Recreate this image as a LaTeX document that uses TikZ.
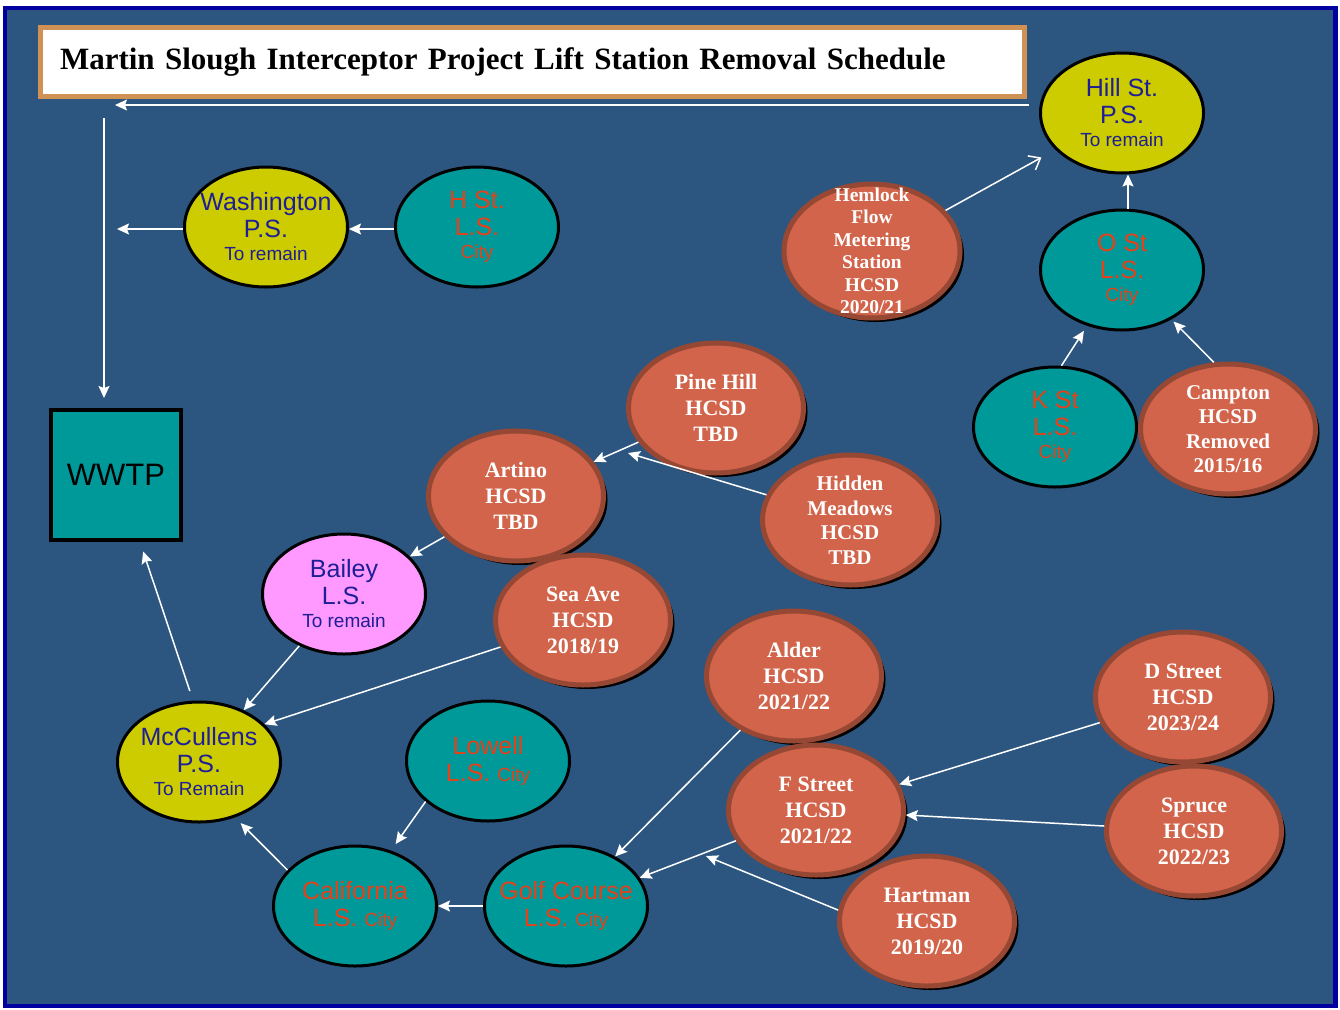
\documentclass[tikz,border=0pt]{standalone}
\usepackage{fontspec}
\setmainfont{Liberation Serif}
\newfontfamily\labelsans{Liberation Sans}
\usetikzlibrary{shapes.geometric,shadows,arrows.meta}

\definecolor{slatebg}{RGB}{44, 86, 128}
\definecolor{framenavy}{RGB}{0, 0, 160}
\definecolor{titlerim}{RGB}{208, 146, 84}
\definecolor{pumpyellow}{RGB}{204, 204, 0}
\definecolor{liftteal}{RGB}{0, 153, 153}
\definecolor{baileypink}{RGB}{255, 153, 255}
\definecolor{hcsdorange}{RGB}{209, 100, 74}
\definecolor{hcsdrim}{RGB}{150, 72, 52}
\definecolor{inkblue}{RGB}{30, 30, 150}
\definecolor{inkred}{RGB}{232, 64, 24}

\newcommand{\bigsans}{\labelsans\fontsize{25}{27}\selectfont}
\newcommand{\smallsans}{\fontsize{19}{21}\selectfont}
\newcommand{\hcsdfont}{\bfseries\fontsize{22}{26}\selectfont}

\tikzset{
  station/.style={ellipse, draw=black, line width=3pt, minimum width=163pt,
    minimum height=120pt, inner sep=-30pt, align=center, font=\bigsans},
  pumpst/.style={station, fill=pumpyellow, text=inkblue},
  liftst/.style={station, fill=liftteal, text=inkred},
  hcsd/.style={ellipse, draw=hcsdrim, line width=5pt, fill=hcsdorange,
    minimum width=175pt, minimum height=130pt, inner sep=-30pt, align=center,
    text=white, font=\hcsdfont,
    drop shadow={shadow xshift=4pt, shadow yshift=-4pt, fill=black, opacity=1}},
  plant/.style={draw=black, line width=4pt, fill=liftteal, minimum size=130pt,
    font=\labelsans\fontsize{31}{33}\selectfont},
  titlebox/.style={draw=titlerim, line width=5pt, fill=white, minimum height=62pt,
    text width=944pt, inner sep=20pt, align=left,
    font=\bfseries\fontsize{31}{36}\selectfont},
  flow/.style={draw=white, line width=1.5pt, -{Stealth[length=12pt,width=11pt,inset=2pt]}},
}

\begin{document}
\begin{tikzpicture}[x=1pt, y=-1pt]
    % Frame
    \fill[white] (0,0) rectangle (1340,1009);
    \draw[framenavy, line width=4.5pt, fill=slatebg] (5,8) rectangle (1335.5,1006);
    \useasboundingbox (0,0) rectangle (1340,1009);

    % Title
    \node[titlebox] (title) at (532,62) {Martin Slough Interceptor Project Lift Station Removal Schedule};

    % Treatment plant
    \node[plant] (wwtp) at (116,475) {WWTP};

    % Pump and lift stations
    \node[pumpst] (hill) at (1122,113) {Hill St.\\P.S.\\[-4pt]{\smallsans To remain}};
    \node[pumpst] (wash) at (266,227) {Washington\\P.S.\\[-4pt]{\smallsans To remain}};
    \node[liftst] (hst) at (477,227) {H St.\\L.S.\\[-4pt]{\smallsans City}};
    \node[liftst] (ost) at (1122,270) {O St\\L.S.\\[-4pt]{\smallsans City}};
    \node[liftst] (kst) at (1055,427) {K St\\L.S.\\[-4pt]{\smallsans City}};
    \node[pumpst, fill=baileypink] (bailey) at (344,594) {Bailey\\L.S.\\[-4pt]{\smallsans To remain}};
    \node[pumpst] (mcc) at (199,762) {McCullens\\P.S.\\[-4pt]{\smallsans To Remain}};
    \node[liftst] (lowell) at (488,761) {Lowell\\L.S. {\smallsans City}};
    \node[liftst] (california) at (355,906) {California\\L.S. {\smallsans City}};
    \node[liftst] (golf) at (566,906) {Golf Course\\L.S. {\smallsans City}};

    % HCSD stations
    \node[hcsd, minimum width=176pt, minimum height=134pt,
      font=\bfseries\fontsize{19.5}{22.5}\selectfont] (hemlock) at (872,251)
      {Hemlock\\Flow\\Metering\\Station\\HCSD\\2020/21};
    \node[hcsd] (pine) at (716,408) {Pine Hill\\HCSD\\TBD};
    \node[hcsd] (artino) at (516,496) {Artino\\HCSD\\TBD};
    \node[hcsd, font=\bfseries\fontsize{21}{24.5}\selectfont] (hidden) at (850,520) {Hidden\\Meadows\\HCSD\\TBD};
    \node[hcsd] (seaave) at (583,620) {Sea Ave\\HCSD\\2018/19};
    \node[hcsd, font=\bfseries\fontsize{21}{24.5}\selectfont] (campton) at (1228,429) {Campton\\HCSD\\Removed\\2015/16};
    \node[hcsd] (alder) at (794,676) {Alder\\HCSD\\2021/22};
    \node[hcsd] (fstreet) at (816,810) {F Street\\HCSD\\2021/22};
    \node[hcsd] (hartman) at (927,921) {Hartman\\HCSD\\2019/20};
    \node[hcsd] (dstreet) at (1183,697) {D Street\\HCSD\\2023/24};
    \node[hcsd] (spruce) at (1194,831) {Spruce\\HCSD\\2022/23};

    % Free ends
    \coordinate (topend) at (115,105);
    \coordinate (drop) at (104,118);
    \coordinate (washend) at (117,229);
    \coordinate (pinefoot) at (628,453);
    \coordinate (golffoot) at (706,856);

    % Flows
    \draw[flow, shorten <=10pt] (hill.west |- topend) -- (topend);
    \draw[flow, shorten >=10pt] (drop) -- (drop |- wwtp.north);
    \draw[flow] (wash.west |- washend) -- (washend);
    \draw[flow] (hst.west |- washend) -- (wash.east |- washend);
    \draw[flow, -{Straight Barb[length=10pt,width=16pt]}, shorten >=16pt] (hemlock) -- (hill);
    \draw[flow] ([xshift=6pt]ost.north) -- ([xshift=6pt]hill.south);
    \draw[flow, shorten >=6pt] (kst.84) -- (ost.238);
    \draw[flow, shorten >=3pt] (campton.102) -- (ost.315);
    \draw[flow] (pine) -- (artino);
    \draw[flow] (hidden) -- (pinefoot);
    \draw[flow] (artino) -- (bailey);
    \draw[flow] (bailey) -- (mcc);
    \draw[flow] (seaave) -- (mcc.30);
    \draw[flow, shorten <=10pt, shorten >=10pt] ([xshift=-6pt]mcc.north) -- ([xshift=24pt]wwtp.south);
    \draw[flow, shorten >=8pt] (lowell.213) -- (california.57);
    \draw[flow, shorten >=8pt] (california.152) -- (mcc.-57);
    \draw[flow] (golf) -- (california);
    \draw[flow] (alder) -- (golf);
    \draw[flow] (fstreet) -- (golf);
    \draw[flow] (dstreet) -- (fstreet);
    \draw[flow] (spruce) -- (fstreet);
    \draw[flow] (hartman.173) -- (golffoot);
\end{tikzpicture}
\end{document}
